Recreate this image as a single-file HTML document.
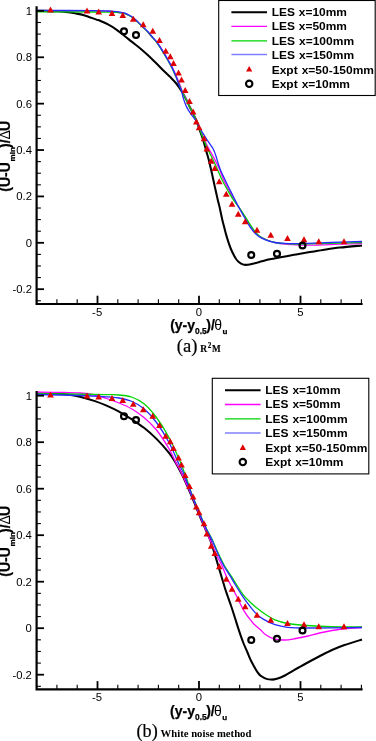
<!DOCTYPE html>
<html>
<head>
<meta charset="utf-8">
<title>Velocity profiles</title>
<style>
html,body{margin:0;padding:0;background:#fff;}
body{width:376px;height:741px;overflow:hidden;font-family:"Liberation Sans",sans-serif;}
svg{display:block;will-change:transform;}
</style>
</head>
<body>
<svg width="376" height="741" viewBox="0 0 376 741" font-family="'Liberation Sans', sans-serif">
<rect width="376" height="741" fill="#fff"/>
<g fill="none" stroke-linejoin="round" stroke-linecap="butt">
<path d="M37 10.8C40.5 10.87 53.17 11.02 58 11.2C62.83 11.38 63.17 11.55 66 11.9C68.83 12.25 72 12.75 75 13.3C78 13.85 80.53 14.18 84 15.2C87.47 16.22 93.13 18.47 95.8 19.4C98.47 20.33 97.97 19.97 100 20.8C102.03 21.63 105.33 22.98 108 24.4C110.67 25.82 113.33 27.45 116 29.3C118.67 31.15 121.33 33.4 124 35.5C126.67 37.6 129.33 39.78 132 41.9C134.67 44.02 137.33 45.97 140 48.2C142.67 50.43 145.33 52.82 148 55.3C150.67 57.78 153.35 60.47 156 63.1C158.65 65.73 161.25 68.5 163.9 71.1C166.55 73.7 169.77 76.55 171.9 78.7C174.03 80.85 175.37 82.35 176.7 84C178.03 85.65 178.97 87.22 179.9 88.6C180.83 89.98 181.28 90.55 182.3 92.3C183.32 94.05 184.87 96.9 186 99.1C187.13 101.3 188.05 103.37 189.1 105.5C190.15 107.63 191.12 109.48 192.3 111.9C193.48 114.32 194.98 117.05 196.2 120C197.42 122.95 198.4 126.15 199.6 129.6C200.8 133.05 202.25 136.98 203.4 140.7C204.55 144.42 205.6 148.68 206.5 151.9C207.4 155.12 207.92 156.52 208.8 160C209.68 163.48 210.78 168.28 211.8 172.8C212.82 177.32 213.9 182.58 214.9 187.1C215.9 191.62 216.93 196.18 217.8 199.9C218.67 203.62 219.38 206.23 220.1 209.4C220.82 212.57 221.38 215.8 222.1 218.9C222.82 222 223.72 225.33 224.4 228C225.08 230.67 225.52 232.5 226.2 234.9C226.88 237.3 227.75 240.13 228.5 242.4C229.25 244.67 229.88 246.52 230.7 248.5C231.52 250.48 232.58 252.67 233.4 254.3C234.22 255.93 234.8 257.1 235.6 258.3C236.4 259.5 237.02 260.48 238.2 261.5C239.38 262.52 241.15 263.85 242.7 264.4C244.25 264.95 245.63 264.95 247.5 264.8C249.37 264.65 251.48 264.08 253.9 263.5C256.32 262.92 259.35 262 262 261.3C264.65 260.6 266.47 260.02 269.8 259.3C273.13 258.58 277.97 257.75 282 257C286.03 256.25 289.83 255.53 294 254.8C298.17 254.07 302.17 253.4 307 252.6C311.83 251.8 317.5 250.83 323 250C328.5 249.17 333.5 248.35 340 247.6C346.5 246.85 358.33 245.85 362 245.5" stroke="#000" stroke-width="2.05"/>
<path d="M37 10.7C46.5 10.73 82.17 10.8 94 10.9C105.83 11 104.33 11.12 108 11.3C111.67 11.48 113.33 11.65 116 12C118.67 12.35 122 12.9 124 13.4C126 13.9 126.67 14.37 128 15C129.33 15.63 130.67 16.28 132 17.2C133.33 18.12 134.67 19.3 136 20.5C137.33 21.7 138.67 23.12 140 24.4C141.33 25.68 142.67 26.88 144 28.2C145.33 29.52 146.67 30.83 148 32.3C149.33 33.77 150.57 35.45 152 37C153.43 38.55 155.17 39.88 156.6 41.6C158.03 43.32 159.28 45.3 160.6 47.3C161.92 49.3 163.17 51.37 164.5 53.6C165.83 55.83 167.25 58.32 168.6 60.7C169.95 63.08 171.25 65.18 172.6 67.9C173.95 70.62 175.38 73.93 176.7 77C178.02 80.07 179.52 83.75 180.5 86.3C181.48 88.85 181.65 90.17 182.6 92.3C183.55 94.43 185.08 96.9 186.2 99.1C187.32 101.3 188.25 103.37 189.3 105.5C190.35 107.63 191.32 109.48 192.5 111.9C193.68 114.32 195.13 117.05 196.4 120C197.67 122.95 198.75 126.27 200.1 129.6C201.45 132.93 202.92 136.55 204.5 140C206.08 143.45 207.92 147.1 209.6 150.3C211.28 153.5 212.95 156.03 214.6 159.2C216.25 162.37 217.98 165.83 219.5 169.3C221.02 172.77 222.12 176.47 223.7 180C225.28 183.53 227.25 187.18 229 190.5C230.75 193.82 232.37 196.82 234.2 199.9C236.03 202.98 237.87 205.6 240 209C242.13 212.4 245.17 217.37 247 220.3C248.83 223.23 249.63 224.63 251 226.6C252.37 228.57 253.88 230.58 255.2 232.1C256.52 233.62 257.6 234.68 258.9 235.7C260.2 236.72 261.48 237.42 263 238.2C264.52 238.98 266 239.67 268 240.4C270 241.13 272.17 241.97 275 242.6C277.83 243.23 281.4 243.82 285 244.2C288.6 244.58 292.43 244.73 296.6 244.9C300.77 245.07 305.27 245.22 310 245.2C314.73 245.18 320 244.97 325 244.8C330 244.63 333.83 244.4 340 244.2C346.17 244 358.33 243.7 362 243.6" stroke="#ff00ff" stroke-width="1.3"/>
<path d="M37 11.8C46.5 11.83 82.17 11.95 94 12C105.83 12.05 104.33 12.03 108 12.1C111.67 12.17 113.33 12.18 116 12.4C118.67 12.62 122 12.97 124 13.4C126 13.83 126.67 14.37 128 15C129.33 15.63 130.67 16.28 132 17.2C133.33 18.12 134.67 19.3 136 20.5C137.33 21.7 138.67 23.12 140 24.4C141.33 25.68 142.67 26.88 144 28.2C145.33 29.52 146.67 30.83 148 32.3C149.33 33.77 150.67 35.45 152 37C153.33 38.55 154.67 39.88 156 41.6C157.33 43.32 158.68 45.3 160 47.3C161.32 49.3 162.57 51.37 163.9 53.6C165.23 55.83 166.67 58.32 168 60.7C169.33 63.08 170.57 65.18 171.9 67.9C173.23 70.62 174.67 73.93 176 77C177.33 80.07 178.85 83.75 179.9 86.3C180.95 88.85 181.28 90.13 182.3 92.3C183.32 94.47 184.87 97.1 186 99.3C187.13 101.5 188.05 103.4 189.1 105.5C190.15 107.6 191.12 109.48 192.3 111.9C193.48 114.32 194.95 117.05 196.2 120C197.45 122.95 198.52 126.27 199.8 129.6C201.08 132.93 202.48 136.55 203.9 140C205.32 143.45 206.82 147.1 208.3 150.3C209.78 153.5 211.3 156.08 212.8 159.2C214.3 162.32 215.75 165.53 217.3 169C218.85 172.47 220.35 176.42 222.1 180C223.85 183.58 225.92 187.18 227.8 190.5C229.68 193.82 231.33 196.82 233.4 199.9C235.47 202.98 237.85 205.6 240.2 209C242.55 212.4 245.62 217.35 247.5 220.3C249.38 223.25 250.17 224.72 251.5 226.7C252.83 228.68 254.25 230.68 255.5 232.2C256.75 233.72 257.77 234.8 259 235.8C260.23 236.8 261.4 237.4 262.9 238.2C264.4 239 265.98 239.88 268 240.6C270.02 241.32 272.17 241.98 275 242.5C277.83 243.02 281.4 243.43 285 243.7C288.6 243.97 290.77 244.12 296.6 244.1C302.43 244.08 312.77 243.78 320 243.6C327.23 243.42 333 243.18 340 243C347 242.82 358.33 242.58 362 242.5" stroke="#00d400" stroke-width="1.3"/>
<path d="M37 10.4C46.5 10.43 82.17 10.5 94 10.6C105.83 10.7 104.33 10.82 108 11C111.67 11.18 113.33 11.38 116 11.7C118.67 12.02 122 12.43 124 12.9C126 13.37 126.67 13.87 128 14.5C129.33 15.13 130.67 15.78 132 16.7C133.33 17.62 134.67 18.8 136 20C137.33 21.2 138.67 22.62 140 23.9C141.33 25.18 142.67 26.38 144 27.7C145.33 29.02 146.67 30.33 148 31.8C149.33 33.27 150.67 34.95 152 36.5C153.33 38.05 154.67 39.38 156 41.1C157.33 42.82 158.68 44.8 160 46.8C161.32 48.8 162.57 50.87 163.9 53.1C165.23 55.33 166.67 57.82 168 60.2C169.33 62.58 170.57 64.68 171.9 67.4C173.23 70.12 174.73 73.35 176 76.5C177.27 79.65 178.63 84.08 179.5 86.3C180.37 88.52 180.52 87.67 181.2 89.8C181.88 91.93 182.68 96.22 183.6 99.1C184.52 101.98 185.52 104.67 186.7 107.1C187.88 109.53 189.23 111.53 190.7 113.7C192.17 115.87 194.25 118.25 195.5 120.1C196.75 121.95 197.25 123.07 198.2 124.8C199.15 126.53 200.23 128.8 201.2 130.5C202.17 132.2 202.73 133.02 204 135C205.27 136.98 207.28 140.1 208.8 142.4C210.32 144.7 211.95 146.67 213.1 148.8C214.25 150.93 214.82 152.62 215.7 155.2C216.58 157.78 217.53 161.67 218.4 164.3C219.27 166.93 219.75 168.33 220.9 171C222.05 173.67 223.75 177.07 225.3 180.3C226.85 183.53 228.58 187.15 230.2 190.4C231.82 193.65 233.42 196.7 235 199.8C236.58 202.9 237.82 205.53 239.7 209C241.58 212.47 244.55 217.57 246.3 220.6C248.05 223.63 248.82 225.17 250.2 227.2C251.58 229.23 253.22 231.3 254.6 232.8C255.98 234.3 257.13 235.23 258.5 236.2C259.87 237.17 261.22 237.85 262.8 238.6C264.38 239.35 265.97 240.05 268 240.7C270.03 241.35 272.17 242.05 275 242.5C277.83 242.95 281.4 243.22 285 243.4C288.6 243.58 290.77 243.68 296.6 243.6C302.43 243.52 312.77 243.13 320 242.9C327.23 242.67 333 242.43 340 242.2C347 241.97 358.33 241.62 362 241.5" stroke="#2828ff" stroke-width="1.3"/>
</g>
<g fill="#de0000"><path d="M47.17 12.58 L53.83 12.58 L50.5 6.6 Z"/><path d="M83.67 13.38 L90.33 13.38 L87 7.4 Z"/><path d="M95.37 14.38 L102.03 14.38 L98.7 8.4 Z"/><path d="M108.67 15.88 L115.33 15.88 L112 9.9 Z"/><path d="M119.42 17.88 L126.08 17.88 L122.75 11.9 Z"/><path d="M129.92 21.63 L136.58 21.63 L133.25 15.65 Z"/><path d="M139.92 27.13 L146.58 27.13 L143.25 21.15 Z"/><path d="M149.42 33.63 L156.08 33.63 L152.75 27.65 Z"/><path d="M156.17 42.88 L162.83 42.88 L159.5 36.9 Z"/><path d="M162.42 53.63 L169.08 53.63 L165.75 47.65 Z"/><path d="M166.92 59.13 L173.58 59.13 L170.25 53.15 Z"/><path d="M170.17 65.88 L176.83 65.88 L173.5 59.9 Z"/><path d="M175.17 75.38 L181.83 75.38 L178.5 69.4 Z"/><path d="M178.17 82.38 L184.83 82.38 L181.5 76.4 Z"/><path d="M181.87 92.88 L188.53 92.88 L185.2 86.9 Z"/><path d="M186.17 103.88 L192.83 103.88 L189.5 97.9 Z"/><path d="M189.77 114.38 L196.43 114.38 L193.1 108.4 Z"/><path d="M192.97 124.38 L199.63 124.38 L196.3 118.4 Z"/><path d="M195.77 130.18 L202.43 130.18 L199.1 124.2 Z"/><path d="M200.67 141.18 L207.33 141.18 L204 135.2 Z"/><path d="M203.47 151.58 L210.13 151.58 L206.8 145.6 Z"/><path d="M207.87 163.68 L214.53 163.68 L211.2 157.7 Z"/><path d="M211.47 170.88 L218.13 170.88 L214.8 164.9 Z"/><path d="M215.92 184.13 L222.58 184.13 L219.25 178.15 Z"/><path d="M222.92 196.63 L229.58 196.63 L226.25 190.65 Z"/><path d="M228.67 206.63 L235.33 206.63 L232 200.65 Z"/><path d="M234.92 216.63 L241.58 216.63 L238.25 210.65 Z"/><path d="M241.87 224.18 L248.53 224.18 L245.2 218.2 Z"/><path d="M253.67 232.78 L260.33 232.78 L257 226.8 Z"/><path d="M267.42 237.68 L274.08 237.68 L270.75 231.7 Z"/><path d="M284.17 240.88 L290.83 240.88 L287.5 234.9 Z"/><path d="M300.67 242.13 L307.33 242.13 L304 236.15 Z"/><path d="M315.42 244.13 L322.08 244.13 L318.75 238.15 Z"/><path d="M340.67 244.13 L347.33 244.13 L344 238.15 Z"/></g>
<g fill="none" stroke="#000" stroke-width="2.2"><circle cx="124" cy="31.25" r="2.95"/><circle cx="136" cy="35" r="2.95"/><circle cx="251.25" cy="255" r="2.95"/><circle cx="277" cy="253.75" r="2.95"/><circle cx="302.5" cy="245.5" r="2.95"/></g>
<path d="M36.6 6.3 V304 H362.6" fill="none" stroke="#000" stroke-width="2.2"/>
<path d="M36.6 304 v-4.7" stroke="#000" stroke-width="1.1"/>
<path d="M56.9 304 v-4.7" stroke="#000" stroke-width="1.1"/>
<path d="M77.2 304 v-4.7" stroke="#000" stroke-width="1.1"/>
<path d="M97.5 304 v-8.3" stroke="#000" stroke-width="1.8"/>
<path d="M117.8 304 v-4.7" stroke="#000" stroke-width="1.1"/>
<path d="M138.1 304 v-4.7" stroke="#000" stroke-width="1.1"/>
<path d="M158.4 304 v-4.7" stroke="#000" stroke-width="1.1"/>
<path d="M178.7 304 v-4.7" stroke="#000" stroke-width="1.1"/>
<path d="M199 304 v-8.3" stroke="#000" stroke-width="1.8"/>
<path d="M219.3 304 v-4.7" stroke="#000" stroke-width="1.1"/>
<path d="M239.6 304 v-4.7" stroke="#000" stroke-width="1.1"/>
<path d="M259.9 304 v-4.7" stroke="#000" stroke-width="1.1"/>
<path d="M280.2 304 v-4.7" stroke="#000" stroke-width="1.1"/>
<path d="M300.5 304 v-8.3" stroke="#000" stroke-width="1.8"/>
<path d="M320.8 304 v-4.7" stroke="#000" stroke-width="1.1"/>
<path d="M341.1 304 v-4.7" stroke="#000" stroke-width="1.1"/>
<path d="M361.4 304 v-4.7" stroke="#000" stroke-width="1.1"/>
<path d="M36.6 300.77 h4.3" stroke="#000" stroke-width="1.1"/>
<path d="M36.6 289.18 h7.4" stroke="#000" stroke-width="1.8"/>
<path d="M36.6 277.58 h4.3" stroke="#000" stroke-width="1.1"/>
<path d="M36.6 265.99 h4.3" stroke="#000" stroke-width="1.1"/>
<path d="M36.6 254.4 h4.3" stroke="#000" stroke-width="1.1"/>
<path d="M36.6 242.8 h7.4" stroke="#000" stroke-width="1.8"/>
<path d="M36.6 231.21 h4.3" stroke="#000" stroke-width="1.1"/>
<path d="M36.6 219.61 h4.3" stroke="#000" stroke-width="1.1"/>
<path d="M36.6 208.02 h4.3" stroke="#000" stroke-width="1.1"/>
<path d="M36.6 196.42 h7.4" stroke="#000" stroke-width="1.8"/>
<path d="M36.6 184.83 h4.3" stroke="#000" stroke-width="1.1"/>
<path d="M36.6 173.23 h4.3" stroke="#000" stroke-width="1.1"/>
<path d="M36.6 161.63 h4.3" stroke="#000" stroke-width="1.1"/>
<path d="M36.6 150.04 h7.4" stroke="#000" stroke-width="1.8"/>
<path d="M36.6 138.45 h4.3" stroke="#000" stroke-width="1.1"/>
<path d="M36.6 126.85 h4.3" stroke="#000" stroke-width="1.1"/>
<path d="M36.6 115.25 h4.3" stroke="#000" stroke-width="1.1"/>
<path d="M36.6 103.66 h7.4" stroke="#000" stroke-width="1.8"/>
<path d="M36.6 92.06 h4.3" stroke="#000" stroke-width="1.1"/>
<path d="M36.6 80.47 h4.3" stroke="#000" stroke-width="1.1"/>
<path d="M36.6 68.88 h4.3" stroke="#000" stroke-width="1.1"/>
<path d="M36.6 57.28 h7.4" stroke="#000" stroke-width="1.8"/>
<path d="M36.6 45.68 h4.3" stroke="#000" stroke-width="1.1"/>
<path d="M36.6 34.09 h4.3" stroke="#000" stroke-width="1.1"/>
<path d="M36.6 22.49 h4.3" stroke="#000" stroke-width="1.1"/>
<path d="M36.6 10.9 h7.4" stroke="#000" stroke-width="1.8"/>
<g font-size="11.3" fill="#000" transform="rotate(0.01)"><text x="32" y="14.9" text-anchor="end">1</text><text x="32" y="61.28" text-anchor="end">0.8</text><text x="32" y="107.66" text-anchor="end">0.6</text><text x="32" y="154.04" text-anchor="end">0.4</text><text x="32" y="200.42" text-anchor="end">0.2</text><text x="32" y="246.8" text-anchor="end">0</text><text x="32" y="293.18" text-anchor="end">-0.2</text><text x="97.2" y="316" text-anchor="middle">-5</text><text x="199" y="316" text-anchor="middle">0</text><text x="300.5" y="316" text-anchor="middle">5</text></g>
<g stroke="#000" stroke-width="0.25" transform="rotate(0.01)"><text x="170.2" y="330.1" font-size="14" font-weight="bold">(y-y</text><text x="195.1" y="334.1" font-size="8.4" font-weight="bold">0.5</text><text x="206.3" y="330.1" font-size="14" font-weight="bold">)/</text><text x="214.2" y="330.1" font-size="14" stroke="none">θ</text><text x="222.5" y="334.1" font-size="8.1" font-weight="bold">u</text></g>
<g transform="translate(10.3 191.7) rotate(-89.99)" stroke="#000" stroke-width="0.25"><text x="0" y="0" font-size="14" font-weight="bold">(U-U</text><text x="30.3" y="4.6" font-size="8.1" font-weight="bold">min</text><text x="43.8" y="0" font-size="14" font-weight="bold">)/</text><text x="52.1" y="0" font-size="14" stroke="none">Δ</text><text x="60.6" y="0" font-size="14" font-weight="bold">U</text></g>
<rect x="218.7" y="0.5" width="156.5" height="95" fill="#fff" stroke="#000" stroke-width="1.1"/>
<path d="M231.4 12.3 H267" stroke="#000" stroke-width="2.0"/>
<path d="M231.4 26.4 H267" stroke="#ff00ff" stroke-width="1.4"/>
<path d="M231.4 40.9 H267" stroke="#00d400" stroke-width="1.3"/>
<path d="M231.4 54.4 H267" stroke="#8080ff" stroke-width="1.5"/>
<g fill="#e00000"><path d="M246.08 71.5 L252.32 71.5 L249.2 65.89 Z"/></g>
<circle cx="249.2" cy="83.85" r="3.2" fill="#fff" stroke="#000" stroke-width="2.1"/>
<g font-size="11" font-weight="bold" fill="#000" word-spacing="0.6" transform="rotate(0.01)"><text x="271.7" y="16" textLength="75.3" lengthAdjust="spacingAndGlyphs">LES x=10mm</text><text x="271.7" y="30.45" textLength="75.3" lengthAdjust="spacingAndGlyphs">LES x=50mm</text><text x="271.7" y="44.9" textLength="82.4" lengthAdjust="spacingAndGlyphs">LES x=100mm</text><text x="271.7" y="59.35" textLength="82.4" lengthAdjust="spacingAndGlyphs">LES x=150mm</text><text x="271.7" y="73.8" textLength="102.3" lengthAdjust="spacingAndGlyphs">Expt x=50-150mm</text><text x="271.7" y="88.25" textLength="78.3" lengthAdjust="spacingAndGlyphs">Expt x=10mm</text></g>
<text x="176.8" y="351.8" font-family="'Liberation Serif', serif" font-size="18" stroke="#000" stroke-width="0.2" textLength="20.6" lengthAdjust="spacingAndGlyphs">(a)</text>
<g font-family="'Liberation Serif', serif" font-weight="bold" stroke="#000" stroke-width="0.15"><text x="200.2" y="351.9" font-size="9.5">R</text><text x="207.7" y="348.4" font-size="7.2">2</text><text x="212.1" y="351.9" font-size="9.5" textLength="8.7" lengthAdjust="spacingAndGlyphs">M</text></g>
<g fill="none" stroke-linejoin="round" stroke-linecap="butt">
<path d="M37 393.5C40 393.53 49.92 393.52 55 393.7C60.08 393.88 63.33 394.08 67.5 394.6C71.67 395.12 75.42 395.72 80 396.8C84.58 397.88 90.67 399.67 95 401.1C99.33 402.53 102 403.65 106 405.4C110 407.15 114.75 409.3 119 411.6C123.25 413.9 127.33 416.5 131.5 419.2C135.67 421.9 139.83 424.52 144 427.8C148.17 431.08 152.33 434.73 156.5 438.9C160.67 443.07 165.92 448.98 169 452.8C172.08 456.62 173.33 459.1 175 461.8C176.67 464.5 177.67 466.55 179 469C180.33 471.45 180.97 472.17 183 476.5C185.03 480.83 188.3 488.17 191.2 495C194.1 501.83 197.97 511.67 200.4 517.5C202.83 523.33 204.17 526.25 205.8 530C207.43 533.75 208.62 535.67 210.2 540C211.78 544.33 213.65 550.68 215.3 556C216.95 561.32 218.5 566.57 220.1 571.9C221.7 577.23 223.65 583.98 224.9 588C226.15 592.02 226.53 592.92 227.6 596C228.67 599.08 230.07 602.83 231.3 606.5C232.53 610.17 233.78 614.18 235 618C236.22 621.82 237.27 625.4 238.6 629.4C239.93 633.4 241.52 638.15 243 642C244.48 645.85 246.1 649.25 247.5 652.5C248.9 655.75 249.68 658.13 251.4 661.5C253.12 664.87 256.12 670.23 257.8 672.7C259.48 675.17 260.18 675.32 261.5 676.3C262.82 677.28 264.07 678.05 265.7 678.6C267.33 679.15 269.43 679.57 271.3 679.6C273.17 679.63 274.63 679.48 276.9 678.8C279.17 678.12 282.25 676.82 284.9 675.5C287.55 674.18 289.45 672.82 292.8 670.9C296.15 668.98 300.55 666.44 305 664C309.45 661.56 315 658.58 319.5 656.25C324 653.92 327.83 651.88 332 650C336.17 648.12 339.5 646.75 344.5 645C349.5 643.25 359.08 640.42 362 639.5" stroke="#000" stroke-width="2.05"/>
<path d="M37 392C40.83 392.05 52.83 392.13 60 392.3C67.17 392.47 74.17 392.55 80 393C85.83 393.45 90.58 394.08 95 395C99.42 395.92 102.5 397.17 106.5 398.5C110.5 399.83 114.83 401.29 119 403C123.17 404.71 127.33 406.33 131.5 408.75C135.67 411.17 139.83 413.96 144 417.5C148.17 421.04 152.33 424.79 156.5 430C160.67 435.21 165.83 443.43 169 448.75C172.17 454.07 173.9 458.77 175.5 461.9C177.1 465.02 177.3 464.98 178.6 467.5C179.9 470.02 181.17 472.42 183.3 477C185.43 481.58 188.52 488.25 191.4 495C194.28 501.75 197.73 510.58 200.6 517.5C203.47 524.42 205.97 530.25 208.6 536.5C211.23 542.75 214.22 550.25 216.4 555C218.58 559.75 219.87 561.03 221.7 565C223.53 568.97 225.02 573.8 227.4 578.8C229.78 583.8 233.28 589.75 236 595C238.72 600.25 241.08 605.88 243.7 610.3C246.32 614.72 249.65 618.88 251.7 621.5C253.75 624.12 254.53 624.62 256 626C257.47 627.38 258.83 628.3 260.5 629.8C262.17 631.3 263.58 633.42 266 635C268.42 636.58 271.83 638.42 275 639.25C278.17 640.08 281.75 640.08 285 640C288.25 639.92 290.83 639.38 294.5 638.75C298.17 638.12 302.83 637.21 307 636.25C311.17 635.29 315.33 633.96 319.5 633C323.67 632.04 327.83 631.21 332 630.5C336.17 629.79 339.5 629.25 344.5 628.75C349.5 628.25 359.08 627.71 362 627.5" stroke="#ff00ff" stroke-width="1.3"/>
<path d="M37 393.75C46.5 393.84 81.83 394.16 94 394.3C106.17 394.44 105.83 394.48 110 394.6C114.17 394.72 115.42 394.6 119 395C122.58 395.4 127.33 395.54 131.5 397C135.67 398.46 139.83 400.33 144 403.75C148.17 407.17 152.33 411.88 156.5 417.5C160.67 423.12 165.03 430.1 169 437.5C172.97 444.9 177.82 456.27 180.3 461.9C182.78 467.52 182.9 468.65 183.9 471.25C184.9 473.85 184.98 473.71 186.3 477.5C187.62 481.29 189.35 487.5 191.8 494C194.25 500.5 198.53 510.67 201 516.5C203.47 522.33 204.7 525.08 206.6 529C208.5 532.92 210.5 536.03 212.4 540C214.3 543.97 216.03 548.6 218 552.8C219.97 557 221.93 561.22 224.2 565.2C226.47 569.18 229.5 573.4 231.6 576.7C233.7 580 234.92 582.07 236.8 585C238.68 587.93 240.78 591.55 242.9 594.3C245.02 597.05 247.07 599.12 249.5 601.5C251.93 603.88 254.75 606.38 257.5 608.6C260.25 610.82 263.08 612.92 266 614.8C268.92 616.68 271.42 618.45 275 619.9C278.58 621.35 282.17 622.57 287.5 623.5C292.83 624.43 299.58 624.96 307 625.5C314.42 626.04 322.83 626.5 332 626.75C341.17 627 357 626.96 362 627" stroke="#00d400" stroke-width="1.3"/>
<path d="M37 394.5C44.17 394.67 69.5 395.2 80 395.5C90.5 395.8 93.5 395.88 100 396.3C106.5 396.72 113.75 397.18 119 398C124.25 398.82 127.33 399.46 131.5 401.25C135.67 403.04 139.83 405.21 144 408.75C148.17 412.29 152.33 416.88 156.5 422.5C160.67 428.12 165.43 435.93 169 442.5C172.57 449.07 176.05 457.94 177.9 461.9C179.75 465.86 179.02 464.07 180.1 466.25C181.18 468.43 182.48 470.38 184.4 475C186.32 479.62 188.87 487.08 191.6 494C194.33 500.92 198.35 510.67 200.8 516.5C203.25 522.33 204.43 525.08 206.3 529C208.17 532.92 210.13 536.03 212 540C213.87 543.97 215.58 548.6 217.5 552.8C219.42 557 221.32 561.22 223.5 565.2C225.68 569.18 228.6 573.4 230.6 576.7C232.6 580 233.72 582.07 235.5 585C237.28 587.93 239.4 591.42 241.3 594.3C243.2 597.18 244.63 599.28 246.9 602.3C249.17 605.32 252.25 609.63 254.9 612.4C257.55 615.17 259.45 616.85 262.8 618.9C266.15 620.95 270.88 623.3 275 624.7C279.12 626.1 282.17 626.75 287.5 627.3C292.83 627.85 294.58 627.97 307 628C319.42 628.03 352.83 627.58 362 627.5" stroke="#2828ff" stroke-width="1.3"/>
</g>
<g fill="#de0000"><path d="M47.17 397.58 L53.83 397.58 L50.5 391.6 Z"/><path d="M83.67 398.38 L90.33 398.38 L87 392.4 Z"/><path d="M95.37 399.38 L102.03 399.38 L98.7 393.4 Z"/><path d="M108.67 400.88 L115.33 400.88 L112 394.9 Z"/><path d="M119.42 402.88 L126.08 402.88 L122.75 396.9 Z"/><path d="M129.92 406.63 L136.58 406.63 L133.25 400.65 Z"/><path d="M139.92 412.13 L146.58 412.13 L143.25 406.15 Z"/><path d="M149.42 418.63 L156.08 418.63 L152.75 412.65 Z"/><path d="M156.17 427.88 L162.83 427.88 L159.5 421.9 Z"/><path d="M162.42 438.63 L169.08 438.63 L165.75 432.65 Z"/><path d="M166.92 444.13 L173.58 444.13 L170.25 438.15 Z"/><path d="M170.17 450.88 L176.83 450.88 L173.5 444.9 Z"/><path d="M175.17 460.38 L181.83 460.38 L178.5 454.4 Z"/><path d="M178.17 467.38 L184.83 467.38 L181.5 461.4 Z"/><path d="M181.87 477.88 L188.53 477.88 L185.2 471.9 Z"/><path d="M186.17 488.88 L192.83 488.88 L189.5 482.9 Z"/><path d="M189.77 499.38 L196.43 499.38 L193.1 493.4 Z"/><path d="M192.97 509.38 L199.63 509.38 L196.3 503.4 Z"/><path d="M195.77 515.18 L202.43 515.18 L199.1 509.2 Z"/><path d="M200.67 526.18 L207.33 526.18 L204 520.2 Z"/><path d="M203.47 536.58 L210.13 536.58 L206.8 530.6 Z"/><path d="M207.87 548.68 L214.53 548.68 L211.2 542.7 Z"/><path d="M211.47 555.88 L218.13 555.88 L214.8 549.9 Z"/><path d="M215.92 569.13 L222.58 569.13 L219.25 563.15 Z"/><path d="M222.92 581.63 L229.58 581.63 L226.25 575.65 Z"/><path d="M228.67 591.63 L235.33 591.63 L232 585.65 Z"/><path d="M234.92 601.63 L241.58 601.63 L238.25 595.65 Z"/><path d="M241.87 609.18 L248.53 609.18 L245.2 603.2 Z"/><path d="M253.67 617.78 L260.33 617.78 L257 611.8 Z"/><path d="M267.42 622.68 L274.08 622.68 L270.75 616.7 Z"/><path d="M284.17 625.88 L290.83 625.88 L287.5 619.9 Z"/><path d="M300.67 627.13 L307.33 627.13 L304 621.15 Z"/><path d="M315.42 629.13 L322.08 629.13 L318.75 623.15 Z"/><path d="M340.67 629.13 L347.33 629.13 L344 623.15 Z"/></g>
<g fill="none" stroke="#000" stroke-width="2.2"><circle cx="124" cy="416.25" r="2.95"/><circle cx="136" cy="420" r="2.95"/><circle cx="251.25" cy="640" r="2.95"/><circle cx="277" cy="638.75" r="2.95"/><circle cx="302.5" cy="630.5" r="2.95"/></g>
<path d="M36.6 391.1 V689.4 H362.6" fill="none" stroke="#000" stroke-width="2.2"/>
<path d="M36.6 689.4 v-4.7" stroke="#000" stroke-width="1.1"/>
<path d="M56.9 689.4 v-4.7" stroke="#000" stroke-width="1.1"/>
<path d="M77.2 689.4 v-4.7" stroke="#000" stroke-width="1.1"/>
<path d="M97.5 689.4 v-8.3" stroke="#000" stroke-width="1.8"/>
<path d="M117.8 689.4 v-4.7" stroke="#000" stroke-width="1.1"/>
<path d="M138.1 689.4 v-4.7" stroke="#000" stroke-width="1.1"/>
<path d="M158.4 689.4 v-4.7" stroke="#000" stroke-width="1.1"/>
<path d="M178.7 689.4 v-4.7" stroke="#000" stroke-width="1.1"/>
<path d="M199 689.4 v-8.3" stroke="#000" stroke-width="1.8"/>
<path d="M219.3 689.4 v-4.7" stroke="#000" stroke-width="1.1"/>
<path d="M239.6 689.4 v-4.7" stroke="#000" stroke-width="1.1"/>
<path d="M259.9 689.4 v-4.7" stroke="#000" stroke-width="1.1"/>
<path d="M280.2 689.4 v-4.7" stroke="#000" stroke-width="1.1"/>
<path d="M300.5 689.4 v-8.3" stroke="#000" stroke-width="1.8"/>
<path d="M320.8 689.4 v-4.7" stroke="#000" stroke-width="1.1"/>
<path d="M341.1 689.4 v-4.7" stroke="#000" stroke-width="1.1"/>
<path d="M361.4 689.4 v-4.7" stroke="#000" stroke-width="1.1"/>
<path d="M36.6 686.33 h4.3" stroke="#000" stroke-width="1.1"/>
<path d="M36.6 674.7 h7.4" stroke="#000" stroke-width="1.8"/>
<path d="M36.6 663.08 h4.3" stroke="#000" stroke-width="1.1"/>
<path d="M36.6 651.45 h4.3" stroke="#000" stroke-width="1.1"/>
<path d="M36.6 639.83 h4.3" stroke="#000" stroke-width="1.1"/>
<path d="M36.6 628.2 h7.4" stroke="#000" stroke-width="1.8"/>
<path d="M36.6 616.58 h4.3" stroke="#000" stroke-width="1.1"/>
<path d="M36.6 604.95 h4.3" stroke="#000" stroke-width="1.1"/>
<path d="M36.6 593.33 h4.3" stroke="#000" stroke-width="1.1"/>
<path d="M36.6 581.7 h7.4" stroke="#000" stroke-width="1.8"/>
<path d="M36.6 570.08 h4.3" stroke="#000" stroke-width="1.1"/>
<path d="M36.6 558.45 h4.3" stroke="#000" stroke-width="1.1"/>
<path d="M36.6 546.82 h4.3" stroke="#000" stroke-width="1.1"/>
<path d="M36.6 535.2 h7.4" stroke="#000" stroke-width="1.8"/>
<path d="M36.6 523.58 h4.3" stroke="#000" stroke-width="1.1"/>
<path d="M36.6 511.95 h4.3" stroke="#000" stroke-width="1.1"/>
<path d="M36.6 500.32 h4.3" stroke="#000" stroke-width="1.1"/>
<path d="M36.6 488.7 h7.4" stroke="#000" stroke-width="1.8"/>
<path d="M36.6 477.07 h4.3" stroke="#000" stroke-width="1.1"/>
<path d="M36.6 465.45 h4.3" stroke="#000" stroke-width="1.1"/>
<path d="M36.6 453.82 h4.3" stroke="#000" stroke-width="1.1"/>
<path d="M36.6 442.2 h7.4" stroke="#000" stroke-width="1.8"/>
<path d="M36.6 430.57 h4.3" stroke="#000" stroke-width="1.1"/>
<path d="M36.6 418.95 h4.3" stroke="#000" stroke-width="1.1"/>
<path d="M36.6 407.32 h4.3" stroke="#000" stroke-width="1.1"/>
<path d="M36.6 395.7 h7.4" stroke="#000" stroke-width="1.8"/>
<g font-size="11.3" fill="#000" transform="rotate(0.01)"><text x="32" y="399.7" text-anchor="end">1</text><text x="32" y="446.2" text-anchor="end">0.8</text><text x="32" y="492.7" text-anchor="end">0.6</text><text x="32" y="539.2" text-anchor="end">0.4</text><text x="32" y="585.7" text-anchor="end">0.2</text><text x="32" y="632.2" text-anchor="end">0</text><text x="32" y="678.7" text-anchor="end">-0.2</text><text x="97.2" y="701.4" text-anchor="middle">-5</text><text x="199" y="701.4" text-anchor="middle">0</text><text x="300.5" y="701.4" text-anchor="middle">5</text></g>
<g stroke="#000" stroke-width="0.25" transform="rotate(0.01)"><text x="170.2" y="715.5" font-size="14" font-weight="bold">(y-y</text><text x="195.1" y="719.5" font-size="8.4" font-weight="bold">0.5</text><text x="206.3" y="715.5" font-size="14" font-weight="bold">)/</text><text x="214.2" y="715.5" font-size="14" stroke="none">θ</text><text x="222.5" y="719.5" font-size="8.1" font-weight="bold">u</text></g>
<g transform="translate(10.3 576.7) rotate(-89.99)" stroke="#000" stroke-width="0.25"><text x="0" y="0" font-size="14" font-weight="bold">(U-U</text><text x="30.3" y="4.6" font-size="8.1" font-weight="bold">min</text><text x="43.8" y="0" font-size="14" font-weight="bold">)/</text><text x="52.1" y="0" font-size="14" stroke="none">Δ</text><text x="60.6" y="0" font-size="14" font-weight="bold">U</text></g>
<rect x="212.3" y="378.3" width="156.5" height="95.6" fill="#fff" stroke="#000" stroke-width="1.1"/>
<path d="M225 390.2 H260.6" stroke="#000" stroke-width="2.0"/>
<path d="M225 404.5 H260.6" stroke="#ff00ff" stroke-width="1.4"/>
<path d="M225 418.8 H260.6" stroke="#00d400" stroke-width="1.3"/>
<path d="M225 433.1 H260.6" stroke="#8080ff" stroke-width="1.5"/>
<g fill="#e00000"><path d="M239.68 449.9 L245.92 449.9 L242.8 444.29 Z"/></g>
<circle cx="242.8" cy="462.05" r="3.2" fill="#fff" stroke="#000" stroke-width="2.1"/>
<g font-size="11" font-weight="bold" fill="#000" word-spacing="0.6" transform="rotate(0.01)"><text x="265.3" y="393.8" textLength="75.3" lengthAdjust="spacingAndGlyphs">LES x=10mm</text><text x="265.3" y="408.25" textLength="75.3" lengthAdjust="spacingAndGlyphs">LES x=50mm</text><text x="265.3" y="422.7" textLength="82.4" lengthAdjust="spacingAndGlyphs">LES x=100mm</text><text x="265.3" y="437.15" textLength="82.4" lengthAdjust="spacingAndGlyphs">LES x=150mm</text><text x="265.3" y="451.6" textLength="102.3" lengthAdjust="spacingAndGlyphs">Expt x=50-150mm</text><text x="265.3" y="466.05" textLength="78.3" lengthAdjust="spacingAndGlyphs">Expt x=10mm</text></g>
<text x="136.5" y="736.8" font-family="'Liberation Serif', serif" font-size="18" stroke="#000" stroke-width="0.2" textLength="21.2" lengthAdjust="spacingAndGlyphs">(b)</text>
<text x="160.6" y="736.9" font-family="'Liberation Serif', serif" font-size="9.4" font-weight="bold" textLength="90.8" lengthAdjust="spacingAndGlyphs">White noise method</text>
</svg>
</body>
</html>
